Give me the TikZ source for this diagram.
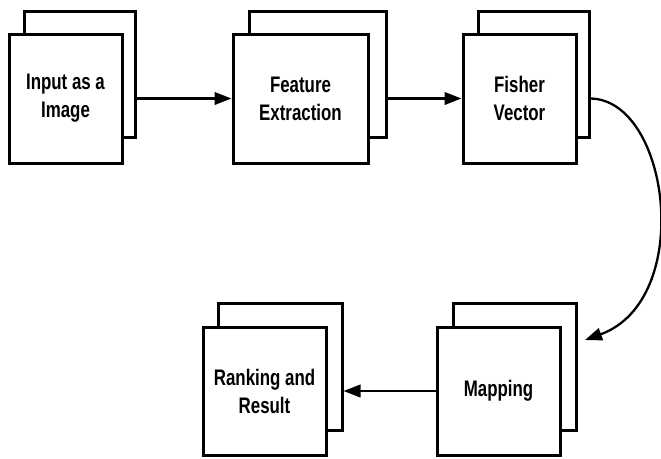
\documentclass[tikz,border=0pt]{standalone}
\usepackage{fontspec}
\setmainfont{Liberation Sans}[FakeStretch=0.75]
\usetikzlibrary{arrows.meta,calc}
\begin{document}
\begin{tikzpicture}[x=1pt,y=-1pt,
  backbox/.style={draw, line width=3pt, fill=white, inner sep=0pt},
  frontbox/.style={draw, line width=3pt, fill=white, inner sep=0pt, align=center,
    font=\bfseries\fontsize{22.5}{28}\selectfont},
  conn/.style={line width=2.3pt, -{Triangle[length=17pt,width=12.5pt]}}]
\useasboundingbox (0,0) rectangle (661,458);
% Input
\node[backbox, minimum width=111pt, minimum height=126pt] (inb) at (79.5,74) {};
\node[frontbox, minimum width=113pt, minimum height=129pt] (in) at (65.5,98.5) {Input as a\\Image};
% Feature extraction
\node[backbox, minimum width=137pt, minimum height=126pt] (feb) at (317.5,74) {};
\node[frontbox, minimum width=135pt, minimum height=129pt] (fe) at (300.5,98.5) {Feature\\Extraction};
% Fisher vector
\node[backbox, minimum width=111pt, minimum height=126pt] (fvb) at (533.5,74) {};
\node[frontbox, minimum width=113pt, minimum height=129pt] (fv) at (519.5,98.5) {Fisher\\Vector};
% Mapping
\node[backbox, minimum width=123pt, minimum height=127pt] (mapb) at (514.5,366.5) {};
\node[frontbox, minimum width=123pt, minimum height=128pt] (map) at (498.5,391) {Mapping};
% Ranking
\node[backbox, minimum width=124pt, minimum height=127pt] (rkb) at (280,366.5) {};
\node[frontbox, minimum width=123pt, minimum height=128pt] (rk) at (264.5,391) {Ranking and\\Result};
\coordinate (mapin) at (585,340);
% connectors
\draw[conn] (inb.east |- in) -- (fe.west);
\draw[conn] (feb.east |- fe) -- (fv.west);
\draw[conn] (fvb.east |- fv) .. controls (670,100) and (695,300) .. (mapin);
\draw[conn] (map.west) -- (rkb.east |- rk);
\end{tikzpicture}
\end{document}
